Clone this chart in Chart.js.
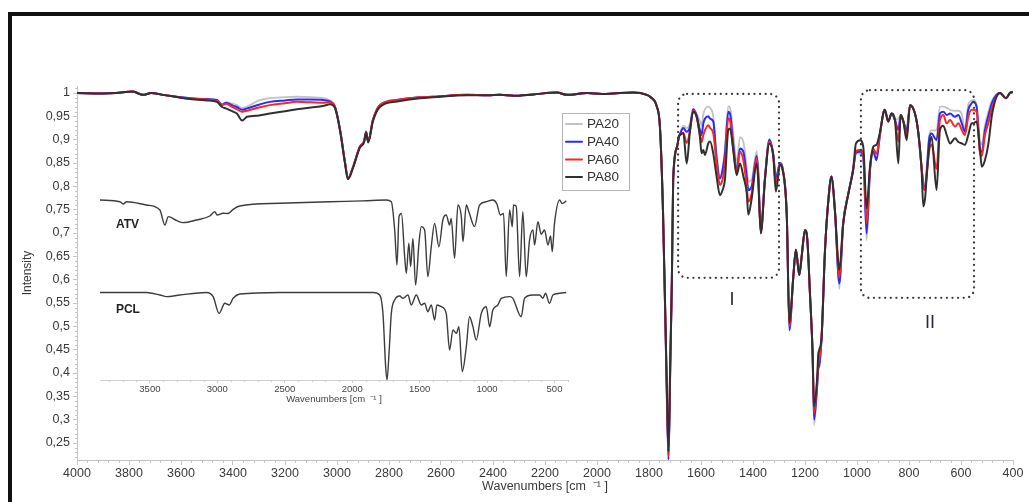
<!DOCTYPE html>
<html>
<head>
<meta charset="utf-8">
<script src="https://cdn.jsdelivr.net/npm/chart.js@4.4.1/dist/chart.umd.min.js"></script>
<style>
  html, body { margin: 0; padding: 0; background: #fff; }
  #wrap { position: relative; width: 1029px; height: 502px; overflow: hidden; }
  #frame { position: absolute; left: 8px; top: 12px; width: 1100px; height: 600px;
           border-left: 4px solid #111; border-top: 4px solid #111; }
  #main { position: absolute; left: 0; top: 0; }
  #inset { position: absolute; left: 90px; top: 185px; }
</style>
</head>
<body>
<div id="wrap">
  <div id="frame"></div>
  <canvas id="main" width="1029" height="502"></canvas>
  <canvas id="inset" width="490" height="225"></canvas>
</div>
<script>
// ---- data ---------------------------------------------------------------
const wavenumbers = [4000,3900,3850,3785,3746,3715,3669,3600,3565,3500,
  3462,3442,3427,3400,3385,3365,3346,3300,3258,3200,
  3154,3100,3054,3027,3008,2988,2969,2958,2938,2912,
  2896,2888,2880,2862,2835,2769,2681,2631,2500,2420,
  2373,2320,2246,2154,2115,2038,1980,1938,1862,1808,
  1796,1770,1758,1746,1733,1725,1718,1712,1707,1692,
  1685,1681,1668,1655,1642,1630,1617,1604,1598,1591,
  1585,1572,1565,1553,1540,1527,1517,1508,1495,1488,
  1476,1463,1450,1437,1424,1418,1405,1386,1380,1370,
  1354,1337,1322,1312,1296,1286,1270,1260,1245,1235,
  1222,1213,1200,1191,1181,1171,1165,1153,1149,1145,
  1136,1123,1110,1098,1085,1068,1053,1033,1015,1004,
  988,976,963,950,937,925,912,899,893,880,
  867,854,841,832,822,809,796,777,764,752,
  745,738,732,722,713,694,681,668,655,642,
  623,610,597,585,572,559,553,540,527,520,
  508,495,480,450,427,412,400];

const pa20 = [1.000,0.999,1.000,1.003,0.996,1.000,0.996,0.991,0.989,0.987,
  0.985,0.976,0.980,0.977,0.974,0.968,0.971,0.984,0.989,0.991,
  0.992,0.991,0.989,0.984,0.972,0.921,0.852,0.818,0.843,0.886,
  0.897,0.918,0.897,0.943,0.975,0.986,0.991,0.992,0.996,0.995,
  0.996,0.994,0.997,1.001,0.996,1.000,0.998,0.999,1.001,0.996,
  0.992,0.971,0.928,0.743,0.400,0.216,0.420,0.600,0.814,0.885,
  0.906,0.912,0.930,0.925,0.935,0.966,0.955,0.940,0.930,0.955,
  0.965,0.971,0.968,0.950,0.870,0.820,0.840,0.880,0.972,0.968,
  0.915,0.850,0.905,0.895,0.840,0.810,0.815,0.875,0.840,0.705,
  0.820,0.902,0.870,0.820,0.850,0.840,0.740,0.490,0.606,0.664,
  0.610,0.649,0.706,0.685,0.571,0.440,0.289,0.370,0.405,0.420,
  0.478,0.664,0.771,0.821,0.749,0.580,0.721,0.785,0.835,0.870,
  0.870,0.860,0.685,0.830,0.870,0.860,0.910,0.956,0.964,0.939,
  0.956,0.942,0.945,0.953,0.940,0.925,0.974,0.956,0.914,0.842,
  0.815,0.800,0.840,0.910,0.920,0.920,0.971,0.971,0.968,0.964,
  0.962,0.962,0.955,0.921,0.976,0.984,0.985,0.975,0.900,0.890,
  0.930,0.960,0.985,1.000,0.989,1.000,1.002];

const pa40 = [1.000,0.999,1.000,1.003,0.996,1.000,0.996,0.991,0.989,0.987,
  0.985,0.975,0.979,0.973,0.970,0.964,0.967,0.975,0.981,0.984,
  0.986,0.986,0.985,0.982,0.971,0.921,0.851,0.817,0.842,0.885,
  0.896,0.917,0.896,0.942,0.974,0.985,0.991,0.992,0.996,0.995,
  0.996,0.994,0.997,1.001,0.996,1.000,0.998,0.999,1.001,0.996,
  0.992,0.971,0.928,0.743,0.398,0.214,0.418,0.600,0.814,0.885,
  0.906,0.912,0.925,0.917,0.928,0.965,0.952,0.920,0.910,0.935,
  0.945,0.950,0.945,0.939,0.860,0.817,0.835,0.870,0.960,0.955,
  0.890,0.835,0.881,0.874,0.820,0.792,0.800,0.865,0.830,0.703,
  0.818,0.900,0.868,0.817,0.850,0.838,0.737,0.492,0.606,0.664,
  0.610,0.649,0.706,0.685,0.571,0.443,0.300,0.375,0.410,0.416,
  0.478,0.664,0.771,0.821,0.749,0.592,0.721,0.785,0.835,0.872,
  0.874,0.865,0.699,0.835,0.874,0.856,0.910,0.956,0.964,0.939,
  0.956,0.942,0.921,0.953,0.940,0.920,0.974,0.956,0.914,0.842,
  0.805,0.792,0.830,0.903,0.913,0.899,0.956,0.960,0.953,0.956,
  0.949,0.953,0.935,0.917,0.964,0.978,0.981,0.970,0.878,0.874,
  0.920,0.950,0.980,1.000,0.989,1.000,1.002];

const pa60 = [1.000,0.999,1.000,1.003,0.996,1.000,0.996,0.990,0.988,0.986,
  0.983,0.974,0.977,0.969,0.965,0.960,0.962,0.969,0.974,0.978,
  0.981,0.980,0.979,0.980,0.970,0.920,0.850,0.817,0.842,0.885,
  0.896,0.917,0.896,0.942,0.974,0.985,0.991,0.992,0.996,0.995,
  0.996,0.994,0.997,1.001,0.996,1.000,0.998,0.999,1.001,0.996,
  0.992,0.971,0.928,0.743,0.405,0.222,0.425,0.600,0.814,0.885,
  0.906,0.910,0.915,0.893,0.920,0.962,0.950,0.910,0.895,0.910,
  0.920,0.931,0.925,0.914,0.850,0.803,0.815,0.850,0.946,0.940,
  0.880,0.830,0.874,0.855,0.800,0.767,0.785,0.860,0.825,0.700,
  0.816,0.896,0.866,0.805,0.848,0.837,0.736,0.500,0.606,0.664,
  0.610,0.649,0.706,0.685,0.571,0.446,0.314,0.385,0.420,0.430,
  0.478,0.664,0.771,0.821,0.749,0.605,0.721,0.785,0.835,0.876,
  0.878,0.870,0.721,0.838,0.880,0.870,0.910,0.956,0.964,0.939,
  0.956,0.942,0.896,0.953,0.940,0.910,0.974,0.956,0.914,0.842,
  0.800,0.792,0.825,0.878,0.889,0.837,0.942,0.953,0.935,0.942,
  0.928,0.935,0.921,0.910,0.949,0.964,0.964,0.960,0.872,0.865,
  0.910,0.935,0.970,1.000,0.989,1.000,1.002];

const pa80 = [1.000,0.999,1.000,1.003,0.996,1.000,0.996,0.990,0.987,0.984,
  0.981,0.970,0.967,0.960,0.956,0.941,0.949,0.952,0.956,0.961,
  0.965,0.969,0.972,0.976,0.968,0.918,0.848,0.815,0.840,0.883,
  0.894,0.915,0.894,0.939,0.970,0.982,0.989,0.991,0.995,0.995,
  0.996,0.994,0.997,1.001,0.996,1.000,0.998,0.999,1.001,0.996,
  0.992,0.971,0.928,0.743,0.415,0.232,0.435,0.600,0.814,0.885,
  0.906,0.910,0.914,0.849,0.921,0.960,0.949,0.906,0.871,0.878,
  0.867,0.892,0.896,0.871,0.821,0.781,0.792,0.814,0.921,0.924,
  0.878,0.824,0.849,0.821,0.785,0.739,0.774,0.849,0.814,0.699,
  0.814,0.892,0.864,0.789,0.846,0.835,0.735,0.507,0.606,0.664,
  0.610,0.649,0.706,0.685,0.571,0.449,0.328,0.392,0.440,0.450,
  0.478,0.664,0.771,0.821,0.749,0.621,0.721,0.785,0.835,0.892,
  0.899,0.885,0.753,0.842,0.885,0.889,0.915,0.956,0.964,0.939,
  0.956,0.942,0.849,0.953,0.940,0.899,0.974,0.956,0.914,0.842,
  0.757,0.775,0.821,0.885,0.906,0.792,0.921,0.930,0.910,0.892,
  0.903,0.895,0.892,0.889,0.910,0.935,0.935,0.939,0.878,0.842,
  0.856,0.890,0.956,1.000,0.989,1.000,1.002];

// inset: pure components (relative transmittance, 1 = baseline)
const atvWn = [3870,3722,3698,3673,3525,3426,3389,3364,3300,3253,
  3154,3056,3019,3001,2957,2920,2883,2833,2537,2167,
  1920,1747,1710,1685,1668,1653,1635,1611,1599,1580,
  1567,1550,1530,1505,1488,1463,1439,1414,1389,1357,
  1328,1303,1278,1266,1241,1216,1191,1179,1154,1135,
  1093,1056,1006,957,927,902,878,858,833,813,
  804,784,759,735,710,685,660,648,623,599,
  574,549,529,517,500,463,443,413];
const atvT = [1.000,0.980,0.956,0.980,0.944,0.889,0.722,0.815,0.770,0.748,
  0.778,0.822,0.870,0.833,0.852,0.850,0.896,0.933,0.963,0.981,
  0.990,1.000,0.980,0.667,0.278,0.815,0.850,0.370,0.185,0.520,
  0.260,0.574,0.056,0.520,0.704,0.667,0.148,0.480,0.740,0.480,
  0.778,0.833,0.722,0.796,0.352,0.944,0.815,0.537,0.944,0.870,
  0.704,0.944,0.981,1.000,0.956,0.833,0.850,0.148,0.889,0.704,
  0.944,0.930,0.148,0.870,0.148,0.556,0.667,0.500,0.759,0.620,
  0.667,0.500,0.600,0.426,0.740,1.000,0.960,0.990];

const pclWn = [3870,3525,3426,3376,3278,3080,3031,2987,2944,2913,
  2883,2833,2537,1846,1796,1772,1752,1742,1727,1710,
  1685,1648,1624,1587,1562,1525,1488,1463,1439,1414,
  1389,1372,1339,1303,1278,1253,1228,1209,1184,1154,
  1130,1105,1080,1043,1006,981,957,920,895,833,
  809,747,722,660,611,586,567,537,512,463,413];
const pclT = [1.000,1.000,0.971,0.952,0.971,1.000,0.952,0.761,0.876,0.857,
  0.933,0.982,1.000,1.000,0.971,0.761,0.152,0.000,0.305,0.761,
  0.914,0.959,0.933,0.970,0.857,0.970,0.857,0.876,0.780,0.857,
  0.685,0.857,0.838,0.761,0.343,0.571,0.533,0.609,0.095,0.380,
  0.723,0.609,0.457,0.761,0.837,0.609,0.800,0.857,0.933,0.952,
  0.933,0.723,0.933,0.970,0.970,0.933,0.990,0.876,0.970,0.990,1.000];

const seriesLabels = ['PA20', 'PA40', 'PA60', 'PA80'];
const xTickValues = [4000,3800,3600,3400,3200,3000,2800,2600,2400,2200,2000,1800,1600,1400,1200,1000,800,600,400];
const yTickValues = [0.25,0.3,0.35,0.4,0.45,0.5,0.55,0.6,0.65,0.7,0.75,0.8,0.85,0.9,0.95,1];
const insetTickValues = [3500,3000,2500,2000,1500,1000,500];

// marked regions (wavenumber span, intensity span)
const regions = [
  { label: 'I',  from: 1688, to: 1300, top: 0.998, bottom: 0.604, textX: 1481, textY: 0.556 },
  { label: 'II', from: 985,  to: 550,  top: 1.006, bottom: 0.561, textX: 719,  textY: 0.507 }
];

// -------------------------------------------------------------------------
const FONT = '"Liberation Sans", Arial, sans-serif';
Chart.defaults.font.family = FONT;
Chart.defaults.color = '#3a3a3a';

function toPoints(xs, ys) {
  return xs.map((x, i) => ({ x: x, y: ys[i] }));
}

function commaNum(v) {
  return String(+v.toFixed(2)).replace('.', ',');
}

const lineColors = ['#c2c2c2', '#2a2aff', '#ff2424', '#303030'];
const allSeries = [pa20, pa40, pa60, pa80];

const mainExtras = {
  id: 'mainExtras',
  afterDraw(chart) {
    const { ctx, chartArea, scales: { x, y } } = chart;
    ctx.save();

    // minor ticks
    ctx.strokeStyle = '#c4c4c4';
    ctx.lineWidth = 1;
    ctx.beginPath();
    for (let v = 3960; v > 400; v -= 40) {
      if (v % 200 === 0) continue;
      const px = Math.round(x.getPixelForValue(v)) + 0.5;
      ctx.moveTo(px, chartArea.bottom);
      ctx.lineTo(px, chartArea.bottom + 3);
    }
    for (let k = 22; k <= 101; k++) {
      if (k % 5 === 0) continue;
      const py = Math.round(y.getPixelForValue(k / 100)) + 0.5;
      ctx.moveTo(chartArea.left - 2, py);
      ctx.lineTo(chartArea.left, py);
    }
    ctx.stroke();

    // dotted rounded boxes + roman labels
    regions.forEach(r => {
      const l = x.getPixelForValue(r.from), rt = x.getPixelForValue(r.to);
      const t = y.getPixelForValue(r.top), b = y.getPixelForValue(r.bottom);
      ctx.strokeStyle = '#3a3a3a';
      ctx.lineWidth = 2.3;
      ctx.lineCap = 'round';
      ctx.setLineDash([0.01, 5.6]);
      ctx.beginPath();
      if (ctx.roundRect) ctx.roundRect(l, t, rt - l, b - t, 9);
      else ctx.rect(l, t, rt - l, b - t);
      ctx.stroke();
      ctx.setLineDash([]);
      ctx.fillStyle = '#2a2a3c';
      ctx.font = '18px ' + FONT;
      ctx.textAlign = 'center';
      ctx.textBaseline = 'middle';
      ctx.fillText(r.label, x.getPixelForValue(r.textX), y.getPixelForValue(r.textY));
    });

    // legend
    const bx = 562, by = 113, bw = 67, bh = 77;
    ctx.fillStyle = '#fff';
    ctx.fillRect(bx, by, bw, bh);
    ctx.strokeStyle = '#b4b4b4';
    ctx.lineWidth = 1;
    ctx.strokeRect(bx + 0.5, by + 0.5, bw, bh);
    chart.data.datasets.forEach((ds, i) => {
      const ly = by + 11 + i * 17.7;
      ctx.strokeStyle = ds.borderColor;
      ctx.lineWidth = 2;
      ctx.beginPath();
      ctx.moveTo(bx + 4, ly);
      ctx.lineTo(bx + 20, ly);
      ctx.stroke();
      ctx.fillStyle = '#333';
      ctx.font = '13.5px ' + FONT;
      ctx.textAlign = 'left';
      ctx.textBaseline = 'middle';
      ctx.fillText(ds.label, bx + 25, ly + 0.5);
    });
    ctx.restore();
  }
};

new Chart(document.getElementById('main'), {
  type: 'line',
  data: {
    datasets: seriesLabels.map((name, i) => ({
      label: name,
      data: toPoints(wavenumbers, allSeries[i]),
      borderColor: lineColors[i],
      borderWidth: i === 0 ? 1.8 : 2,
      order: 4 - i
    }))
  },
  options: {
    responsive: false,
    animation: false,
    events: [],
    layout: { padding: { left: 0, top: 86, right: 16, bottom: 0 } },
    elements: {
      point: { radius: 0 },
      line: { cubicInterpolationMode: 'monotone', borderJoinStyle: 'round' }
    },
    plugins: { legend: { display: false }, tooltip: { enabled: false } },
    scales: {
      x: {
        type: 'linear',
        reverse: true,
        min: 400,
        max: 4000,
        afterBuildTicks: s => { s.ticks = xTickValues.map(v => ({ value: v })); },
        afterFit: s => { s.height = 42; },
        ticks: { autoSkip: false, maxRotation: 0, padding: 1, font: { size: 12.5 },
                 callback: v => String(v) },
        grid: { drawOnChartArea: false, tickLength: 5, color: '#c4c4c4' },
        border: { color: '#c4c4c4' },
        title: { display: true, text: 'Wavenumbers [cm  \u207B\u00B9 ]', font: { size: 12.5 },
                 padding: { top: 0, bottom: 8 } }
      },
      y: {
        min: 0.2136,
        max: 1.015,
        afterBuildTicks: s => { s.ticks = yTickValues.map(v => ({ value: v })); },
        afterFit: s => { s.width = 77; },
        ticks: { autoSkip: false, padding: 3, font: { size: 12.5 },
                 callback: v => commaNum(v) },
        grid: { drawOnChartArea: false, tickLength: 4, color: '#c4c4c4' },
        border: { color: '#c4c4c4' },
        title: { display: true, text: 'Intensity', font: { size: 12 },
                 padding: { top: 20, bottom: 0 } }
      }
    }
  },
  plugins: [mainExtras]
});

// ---- inset ---------------------------------------------------------------
const insetExtras = {
  id: 'insetExtras',
  afterDraw(chart) {
    const { ctx, chartArea, scales: { x, yA, yP } } = chart;
    ctx.save();
    ctx.strokeStyle = '#cfcfcf';
    ctx.lineWidth = 1;
    ctx.beginPath();
    for (let v = 3800; v >= 400; v -= 100) {
      if (v % 500 === 0) continue;
      const px = Math.round(x.getPixelForValue(v)) + 0.5;
      ctx.moveTo(px, chartArea.bottom);
      ctx.lineTo(px, chartArea.bottom + 2);
    }
    ctx.stroke();
    ctx.fillStyle = '#222';
    ctx.font = 'bold 12px ' + FONT;
    ctx.textAlign = 'left';
    ctx.textBaseline = 'middle';
    ctx.fillText('ATV', x.getPixelForValue(3752), yA.getPixelForValue(0.722));
    ctx.fillText('PCL', x.getPixelForValue(3752), yP.getPixelForValue(0.80));
    ctx.restore();
  }
};

new Chart(document.getElementById('inset'), {
  type: 'line',
  data: {
    datasets: [
      { label: 'ATV', data: toPoints(atvWn, atvT), yAxisID: 'yA', borderColor: '#3c3c3c', borderWidth: 1.4 },
      { label: 'PCL', data: toPoints(pclWn, pclT), yAxisID: 'yP', borderColor: '#3c3c3c', borderWidth: 1.4 }
    ]
  },
  options: {
    responsive: false,
    animation: false,
    events: [],
    layout: { padding: { left: 10, top: 5, right: 12, bottom: 0 } },
    elements: {
      point: { radius: 0 },
      line: { cubicInterpolationMode: 'monotone', borderJoinStyle: 'round' }
    },
    plugins: { legend: { display: false }, tooltip: { enabled: false } },
    scales: {
      x: {
        type: 'linear',
        reverse: true,
        min: 400,
        max: 3870,
        afterBuildTicks: s => { s.ticks = insetTickValues.map(v => ({ value: v })); },
        afterFit: s => { s.height = 30; },
        ticks: { autoSkip: false, maxRotation: 0, padding: 1, font: { size: 9.5 }, color: '#444',
                 callback: v => String(v) },
        grid: { drawOnChartArea: false, tickLength: 3, color: '#cfcfcf' },
        border: { color: '#cfcfcf' },
        title: { display: true, text: 'Wavenumbers [cm  \u207B\u00B9 ]', font: { size: 9.5 },
                 color: '#444', padding: { top: 0, bottom: 5 } }
      },
      yA: { display: false, min: -1, max: 1.111 },
      yP: { display: false, min: 0, max: 2.17 }
    }
  },
  plugins: [insetExtras]
});
</script>
</body>
</html>
